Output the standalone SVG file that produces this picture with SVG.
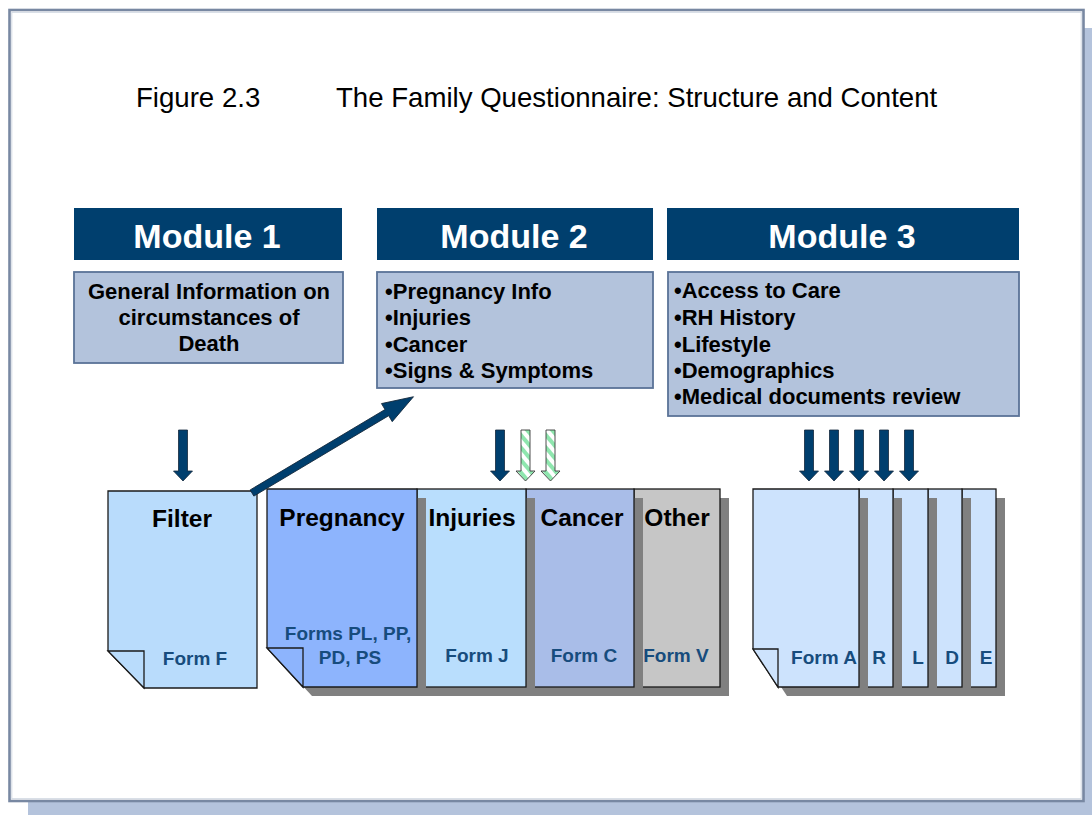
<svg xmlns="http://www.w3.org/2000/svg" width="1092" height="815" viewBox="0 0 1092 815">
  <defs>
    <style>
      .hdr { fill: #003f6e; }
      .hdr-t { font-family: "Liberation Sans", Arial, sans-serif; font-weight: bold; font-size: 34px; fill: #ffffff; text-anchor: middle; }
      .box { fill: #b3c3dc; stroke: #5a7397; stroke-width: 1.8; }
      .box-t { font-family: "Liberation Sans", Arial, sans-serif; font-weight: bold; font-size: 22px; fill: #000000; }
      .pg-t { font-family: "Liberation Sans", Arial, sans-serif; font-weight: bold; font-size: 24.5px; fill: #000000; text-anchor: middle; }
      .form-t { font-family: "Liberation Sans", Arial, sans-serif; font-weight: bold; font-size: 19px; fill: #174c7d; text-anchor: middle; }
      .page { stroke: #1a1a1a; stroke-width: 1.3; }
      .shadow { fill: #808080; }
      .fold { stroke: #1a1a1a; stroke-width: 1.3; }
      .arr { fill: #003f6e; stroke: #14283c; stroke-width: 0.8; }
      .arr-h { fill: url(#stripes); stroke: #3a3a3a; stroke-width: 0.9; }
    </style>
    <pattern id="stripes" width="8" height="8" patternUnits="userSpaceOnUse" patternTransform="rotate(-40)">
      <rect width="8" height="8" fill="#ffffff"/>
      <rect width="4" height="8" fill="#8fe6ae"/>
    </pattern>
    <!-- downward block arrow, tip at origin -->
    <path id="down" d="M-4.5,-51 H4.5 V-10 H9.5 L0,0 L-9.5,-10 H-4.5 Z"/>
  </defs>

  <!-- frame -->
  <rect x="28" y="28" width="1064" height="787" fill="#b4c3dc"/>
  <rect x="9.5" y="10" width="1074" height="791" fill="#ffffff" stroke="#7888a2" stroke-width="2.6"/>
  <rect x="11.8" y="12.3" width="1069.4" height="786.4" fill="none" stroke="#d0d7e2" stroke-width="1"/>

  <!-- title -->
  <g id="title" font-family="'Liberation Sans', Arial, sans-serif" font-size="27.6" fill="#000000">
    <text x="136" y="107">Figure 2.3</text>
    <text x="336" y="107">The Family Questionnaire: Structure and Content</text>
  </g>

  <!-- module 1 -->
  <g id="module1">
    <rect class="hdr" x="74" y="208" width="268" height="52"/>
    <text class="hdr-t" x="207" y="248">Module 1</text>
    <rect class="box" x="74" y="272" width="269" height="91"/>
    <text class="box-t" x="209" y="299" text-anchor="middle">General Information on</text>
    <text class="box-t" x="209" y="325" text-anchor="middle">circumstances of</text>
    <text class="box-t" x="209" y="351" text-anchor="middle">Death</text>
  </g>

  <!-- module 2 -->
  <g id="module2">
    <rect class="hdr" x="377" y="208" width="276" height="52"/>
    <text class="hdr-t" x="514" y="248">Module 2</text>
    <rect class="box" x="377" y="272" width="276" height="116"/>
    <text class="box-t" x="385" y="299">•Pregnancy Info</text>
    <text class="box-t" x="385" y="325">•Injuries</text>
    <text class="box-t" x="385" y="352">•Cancer</text>
    <text class="box-t" x="385" y="378">•Signs &amp; Symptoms</text>
  </g>

  <!-- module 3 -->
  <g id="module3">
    <rect class="hdr" x="667" y="208" width="352" height="52"/>
    <text class="hdr-t" x="842" y="248">Module 3</text>
    <rect class="box" x="668" y="272" width="351" height="144"/>
    <text class="box-t" x="674" y="298">•Access to Care</text>
    <text class="box-t" x="674" y="325">•RH History</text>
    <text class="box-t" x="674" y="352">•Lifestyle</text>
    <text class="box-t" x="674" y="378">•Demographics</text>
    <text class="box-t" x="674" y="404">•Medical documents review</text>
  </g>

  <!-- module 2 pages, drawn right to left so each shadow lies on the next page -->
  <g id="page-other">
    <rect class="shadow" x="643" y="498" width="86" height="198"/>
    <rect class="page" x="634" y="489" width="86" height="198" fill="#c6c6c6"/>
    <text class="pg-t" x="677" y="526">Other</text>
    <text class="form-t" x="676" y="662">Form V</text>
  </g>
  <g id="page-cancer">
    <rect class="shadow" x="535" y="498" width="108" height="198"/>
    <rect class="page" x="526" y="489" width="108" height="198" fill="#a9bde8"/>
    <text class="pg-t" x="582" y="526">Cancer</text>
    <text class="form-t" x="584" y="662">Form C</text>
  </g>
  <g id="page-injuries">
    <rect class="shadow" x="426" y="498" width="109" height="198"/>
    <rect class="page" x="417" y="489" width="109" height="198" fill="#b9defd"/>
    <text class="pg-t" x="472" y="526">Injuries</text>
    <text class="form-t" x="477" y="662">Form J</text>
  </g>
  <g id="page-pregnancy">
    <path class="shadow" d="M276,498 H426 V696 H312 L276,657 Z"/>
    <path class="page" d="M267,489 H417 V687 H303 L267,648 Z" fill="#8db4fd"/>
    <path class="fold" d="M267,648 H303 V687 Z" fill="#8db4fd"/>
    <text class="pg-t" x="342" y="526">Pregnancy</text>
    <text class="form-t" x="348" y="640">Forms PL, PP,</text>
    <text class="form-t" x="350" y="664">PD, PS</text>
  </g>
  <g id="page-filter">
    <path class="page" d="M108,491 H257 V688 H144 L108,651 Z" fill="#b9dcfc"/>
    <path class="fold" d="M108,651 H144 V688 Z" fill="#b9dcfc"/>
    <text class="pg-t" x="182" y="527">Filter</text>
    <text class="form-t" x="195" y="665">Form F</text>
  </g>

  <!-- module 3 pages -->
  <g id="page-e">
    <rect class="shadow" x="971" y="498" width="34" height="198"/>
    <rect class="page" x="962" y="489" width="34" height="198" fill="#cde3fd"/>
    <text class="form-t" x="986" y="664">E</text>
  </g>
  <g id="page-d">
    <rect class="shadow" x="937" y="498" width="34" height="198"/>
    <rect class="page" x="928" y="489" width="34" height="198" fill="#cde3fd"/>
    <text class="form-t" x="952" y="664">D</text>
  </g>
  <g id="page-l">
    <rect class="shadow" x="902" y="498" width="35" height="198"/>
    <rect class="page" x="893" y="489" width="35" height="198" fill="#cde3fd"/>
    <text class="form-t" x="918" y="664">L</text>
  </g>
  <g id="page-r">
    <rect class="shadow" x="868" y="498" width="34" height="198"/>
    <rect class="page" x="859" y="489" width="34" height="198" fill="#cde3fd"/>
    <text class="form-t" x="879" y="664">R</text>
  </g>
  <g id="page-a">
    <path class="shadow" d="M762,498 H868 V696 H787 L762,658 Z"/>
    <path class="page" d="M753,489 H859 V687 H778 L753,649 Z" fill="#cde3fd"/>
    <path class="fold" d="M753,649 H778 V687 Z" fill="#cde3fd"/>
    <text class="form-t" x="824" y="664">Form A</text>
  </g>

  <!-- connectors -->
  <g id="connectors">
    <use href="#down" class="arr" x="183" y="481"/>
    <path class="arr" transform="translate(252,493) rotate(-30.8)" d="M0,-3.6 H157 V-10.5 L188,0 L157,10.5 V3.6 H0 Z"/>
    <use href="#down" class="arr" x="500" y="481"/>
    <use href="#down" class="arr-h" x="525.5" y="481"/>
    <use href="#down" class="arr-h" x="550.5" y="481"/>
    <use href="#down" class="arr" x="809" y="481"/>
    <use href="#down" class="arr" x="834" y="481"/>
    <use href="#down" class="arr" x="859" y="481"/>
    <use href="#down" class="arr" x="884" y="481"/>
    <use href="#down" class="arr" x="909" y="481"/>
  </g>
</svg>
